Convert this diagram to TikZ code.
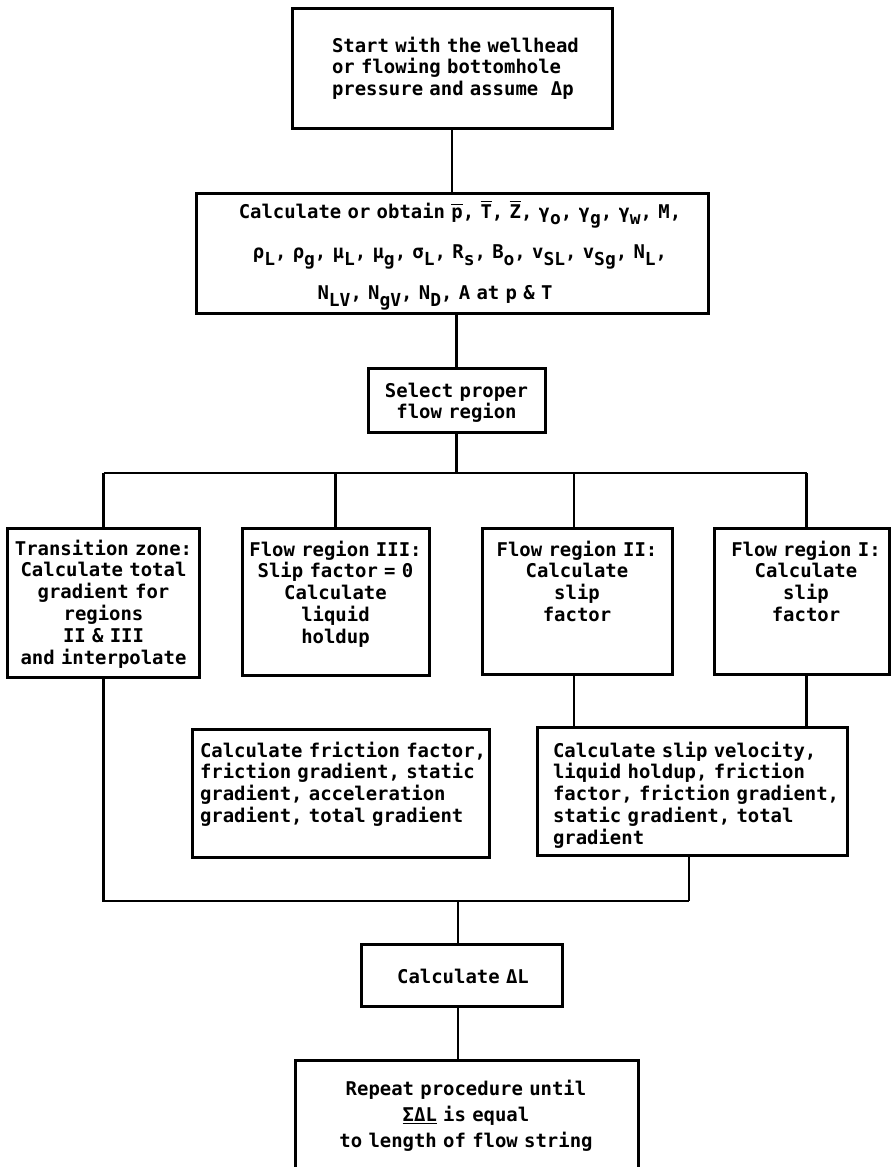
\documentclass[tikz,border=0pt]{standalone}
\usepackage{fontspec}
\setmainfont{DejaVu Sans Mono}
\newcommand\ssub[1]{\raisebox{-6.5bp}{\fontsize{18}{18}\selectfont #1}}
\newcommand\ovl[1]{\leavevmode\vbox{\hrule height 1.6bp\kern 2bp\hbox{#1}}}
\newcommand\tfnt[1]{\fontsize{19}{#1}\selectfont\bfseries\spaceskip=0.602em plus 0pt minus 0pt\xspaceskip=0.602em\relax}
\begin{document}
\begin{tikzpicture}[x=1bp,y=-1bp,
  box/.style={draw, line width=3bp, inner sep=0pt, outer sep=0pt},
  conn/.style={line width=2.2bp},
  txt/.style={inner sep=0pt, outer sep=0pt, font=\tfnt{22}},
]
\useasboundingbox (0,0) rectangle (894,1167);
\clip (0,0) rectangle (894,1167);

% boxes
\node[box, minimum width=320bp, minimum height=120bp] (b1) at (452,68) {};
\node[box, minimum width=511bp, minimum height=120bp] (b2) at (452.5,253) {};
\node[box, minimum width=177bp, minimum height=64bp] (b3) at (456.5,400) {};
\node[box, minimum width=191bp, minimum height=149bp] (t) at (103.5,602.5) {};
\node[box, minimum width=187bp, minimum height=147bp] (r3) at (335.5,601.5) {};
\node[box, minimum width=190bp, minimum height=146bp] (r2) at (577,601) {};
\node[box, minimum width=175bp, minimum height=146bp] (r1) at (801.5,601) {};
\node[box, minimum width=297bp, minimum height=128bp] (l1) at (340.5,793) {};
\node[box, minimum width=310bp, minimum height=128bp] (l2) at (692,791) {};
\node[box, minimum width=201bp, minimum height=62bp] (dl) at (461.5,975) {};
\node[box, minimum width=343bp, minimum height=130bp] (rep) at (466.5,1125) {};

% texts
\node[txt, anchor=base west, text width=290bp, align=left] (b1t) at (332,52)
  {Start with the wellhead\\or flowing bottomhole\\pressure and assume~~Δp};
\node[txt, anchor=base, text width=520bp, align=center, font=\tfnt{41}] (b2t) at (460,218)
  {Calculate or obtain \ovl{p}, \ovl{T}, \ovl{Z}, γ\ssub{o}, γ\ssub{g}, γ\ssub{w}, M,\\
   ρ\ssub{L}, ρ\ssub{g}, μ\ssub{L}, μ\ssub{g}, σ\ssub{L}, R\ssub{s}, B\ssub{o}, v\ssub{SL}, v\ssub{Sg}, N\ssub{L},\\
   \hspace*{-50bp}N\ssub{LV}, N\ssub{gV}, N\ssub{D}, A at p \& T};
\node[txt, anchor=base, text width=177bp, align=center] (b3t) at (456.5,397)
  {Select proper\\flow region};
\node[txt, anchor=base, text width=200bp, align=center] (tt) at (103.5,555)
  {Transition zone:\\Calculate total\\gradient for\\regions\\II \& III\\and interpolate};
\node[txt, anchor=base, text width=200bp, align=center] (r3t) at (335.5,556)
  {Flow region III:\\Slip factor = 0\\Calculate\\liquid\\holdup};
\node[txt, anchor=base, text width=190bp, align=center] (r2t) at (577,556)
  {Flow region II:\\Calculate\\slip\\factor};
\node[txt, anchor=base, text width=175bp, align=center] (r1t) at (806,556)
  {Flow region I:\\Calculate\\slip\\factor};
\node[txt, anchor=base west, text width=310bp, align=left] (l1t) at (200,757)
  {Calculate friction factor,\\friction gradient, static\\gradient, acceleration\\gradient, total gradient};
\node[txt, anchor=base west, text width=310bp, align=left] (l2t) at (553,757)
  {Calculate slip velocity,\\liquid holdup, friction\\factor, friction gradient,\\static gradient, total\\gradient};
\node[txt, anchor=base, text width=201bp, align=center] (dlt) at (463,983)
  {Calculate ΔL};
\node[txt, anchor=base, text width=343bp, align=center, font=\tfnt{26.5}] (rept) at (466,1095)
  {Repeat procedure until\\\underline{ΣΔL} is equal\\to length of flow string};

% connector points
\coordinate (bar) at (456.5,473);
\coordinate (bot) at (458,901);

% connectors
\draw[conn] (b1.south) -- (b1.south |- b2.north);
\draw[conn] (b3.north |- b2.south) -- (b3.north);
\draw[conn] (b3.south) -- (bar);
\draw[conn] (t.north |- bar) -- ([xshift=5bp]r1.north |- bar);
\draw[conn] (t.north |- bar) -- (t.north);
\draw[conn] (r3.north |- bar) -- (r3.north);
\draw[conn] ([xshift=-3bp]r2.north |- bar) -- ([xshift=-3bp]r2.north);
\draw[conn] ([xshift=5bp]r1.north |- bar) -- ([xshift=5bp]r1.north);
\draw[conn] ([xshift=-3bp]r2.south) -- ([xshift=-3bp]r2.south |- l2.north);
\draw[conn] ([xshift=5bp]r1.south) -- ([xshift=5bp]r1.south |- l2.north);
\draw[conn] (t.south) -- (t.south |- bot) -- ([xshift=-3bp]l2.south |- bot);
\draw[conn] ([xshift=-3bp]l2.south) -- ([xshift=-3bp]l2.south |- bot);
\draw[conn] (bot) -- (bot |- dl.north);
\draw[conn] (bot |- dl.south) -- (bot |- rep.north);
\end{tikzpicture}
\end{document}
